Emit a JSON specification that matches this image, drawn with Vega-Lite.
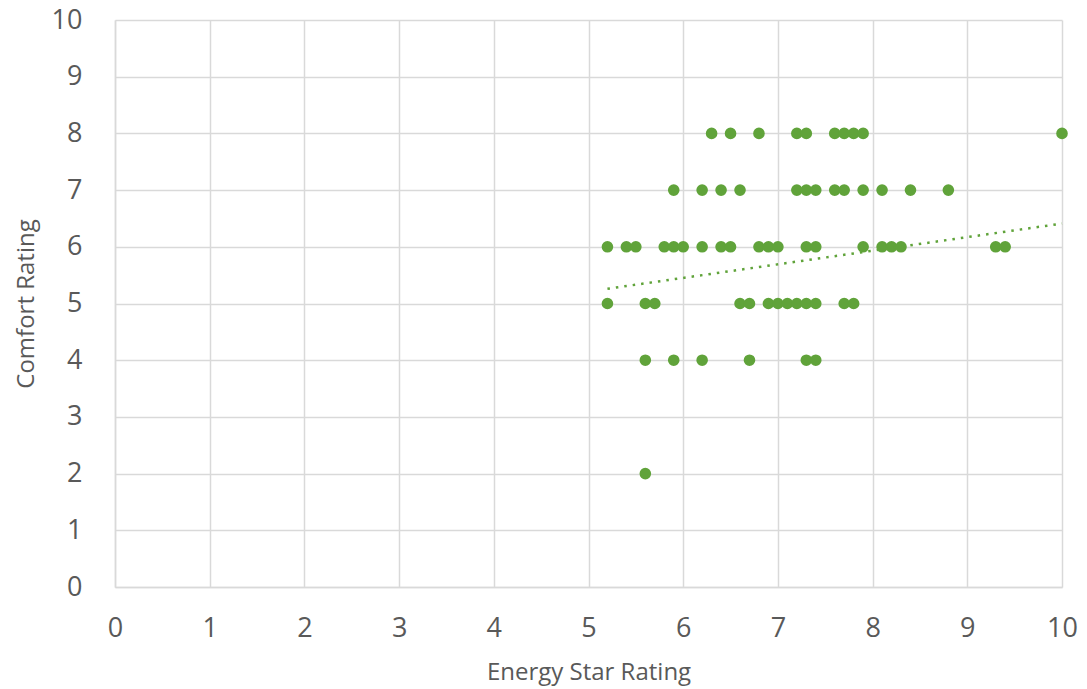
{
  "$schema": "https://vega.github.io/schema/vega-lite/v6.json",
  "autosize": "none",
  "width": 947,
  "height": 567,
  "padding": {"left": 115, "top": 20, "right": 25, "bottom": 102},
  "background": "white",
  "config": {
    "view": {"stroke": null},
    "font": "Open Sans"
  },
  "datasets": {
    "points": [
      {"energy": 6.3, "comfort": 8}, {"energy": 6.5, "comfort": 8}, {"energy": 6.8, "comfort": 8}, {"energy": 7.2, "comfort": 8}, {"energy": 7.3, "comfort": 8}, {"energy": 7.6, "comfort": 8}, {"energy": 7.7, "comfort": 8}, {"energy": 7.8, "comfort": 8}, {"energy": 7.9, "comfort": 8}, {"energy": 10, "comfort": 8},
      {"energy": 5.9, "comfort": 7}, {"energy": 6.2, "comfort": 7}, {"energy": 6.4, "comfort": 7}, {"energy": 6.6, "comfort": 7}, {"energy": 7.2, "comfort": 7}, {"energy": 7.3, "comfort": 7}, {"energy": 7.4, "comfort": 7}, {"energy": 7.6, "comfort": 7}, {"energy": 7.7, "comfort": 7}, {"energy": 7.9, "comfort": 7}, {"energy": 8.1, "comfort": 7}, {"energy": 8.4, "comfort": 7}, {"energy": 8.8, "comfort": 7},
      {"energy": 5.2, "comfort": 6}, {"energy": 5.4, "comfort": 6}, {"energy": 5.5, "comfort": 6}, {"energy": 5.8, "comfort": 6}, {"energy": 5.9, "comfort": 6}, {"energy": 6.0, "comfort": 6}, {"energy": 6.2, "comfort": 6}, {"energy": 6.4, "comfort": 6}, {"energy": 6.5, "comfort": 6}, {"energy": 6.8, "comfort": 6}, {"energy": 6.9, "comfort": 6}, {"energy": 7.0, "comfort": 6}, {"energy": 7.3, "comfort": 6}, {"energy": 7.4, "comfort": 6}, {"energy": 7.9, "comfort": 6}, {"energy": 8.1, "comfort": 6}, {"energy": 8.2, "comfort": 6}, {"energy": 8.3, "comfort": 6}, {"energy": 9.3, "comfort": 6}, {"energy": 9.4, "comfort": 6},
      {"energy": 5.2, "comfort": 5}, {"energy": 5.6, "comfort": 5}, {"energy": 5.7, "comfort": 5}, {"energy": 6.6, "comfort": 5}, {"energy": 6.7, "comfort": 5}, {"energy": 6.9, "comfort": 5}, {"energy": 7.0, "comfort": 5}, {"energy": 7.1, "comfort": 5}, {"energy": 7.2, "comfort": 5}, {"energy": 7.3, "comfort": 5}, {"energy": 7.4, "comfort": 5}, {"energy": 7.7, "comfort": 5}, {"energy": 7.8, "comfort": 5},
      {"energy": 5.6, "comfort": 4}, {"energy": 5.9, "comfort": 4}, {"energy": 6.2, "comfort": 4}, {"energy": 6.7, "comfort": 4}, {"energy": 7.3, "comfort": 4}, {"energy": 7.4, "comfort": 4},
      {"energy": 5.6, "comfort": 2}
    ],
    "trend": [
      {"energy": 5.2, "comfort": 5.26},
      {"energy": 10, "comfort": 6.41}
    ]
  },
  "layer": [
    {
      "data": {"name": "points"},
      "mark": {"type": "circle", "size": 135, "color": "#60A33A", "opacity": 1},
      "encoding": {
        "x": {
          "field": "energy", "type": "quantitative",
          "scale": {"domain": [0, 10], "nice": false, "zero": true},
          "axis": {
            "title": "Energy Star Rating", "values": [0,1,2,3,4,5,6,7,8,9,10], "format": "d",
            "grid": true, "gridColor": "#d9d9d9", "gridWidth": 1.5,
            "domainColor": "#d9d9d9", "domainWidth": 1.5, "ticks": false, "labelFlush": false,
            "labelFontSize": 27, "labelColor": "#595959", "labelPadding": 28,
            "titleFontSize": 24, "titleColor": "#595959", "titleFontWeight": "normal", "titlePadding": 19
          }
        },
        "y": {
          "field": "comfort", "type": "quantitative",
          "scale": {"domain": [0, 10], "nice": false},
          "axis": {
            "title": "Comfort Rating", "values": [0,1,2,3,4,5,6,7,8,9,10], "format": "d",
            "grid": true, "gridColor": "#d9d9d9", "gridWidth": 1.5,
            "domainColor": "#d9d9d9", "domainWidth": 1.5, "ticks": false, "labelFlush": false,
            "labelFontSize": 27, "labelColor": "#595959", "labelPadding": 33,
            "titleFontSize": 24, "titleColor": "#595959", "titleFontWeight": "normal", "titlePadding": 13
          }
        }
      }
    },
    {
      "data": {"name": "trend"},
      "mark": {"type": "line", "color": "#60A33A", "strokeWidth": 2.5, "strokeDash": [2.5, 6]},
      "encoding": {
        "x": {"field": "energy", "type": "quantitative"},
        "y": {"field": "comfort", "type": "quantitative"}
      }
    }
  ]
}
